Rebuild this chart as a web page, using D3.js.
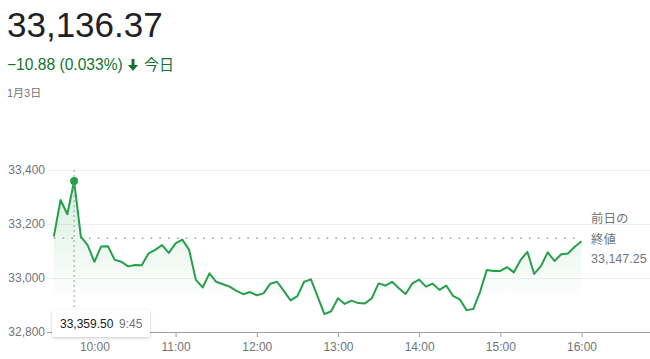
<!DOCTYPE html>
<html>
<head>
<meta charset="utf-8">
<script src="https://cdn.jsdelivr.net/npm/d3@7"></script>
<style>
  html, body { margin: 0; padding: 0; background: #fff; }
  svg { display: block; font-family: Arial, "Liberation Sans", sans-serif; }
  .jp { font-family: Arial, "Noto Sans CJK JP", sans-serif; }
</style>
</head>
<body>
<div id="chart"></div>
<script>
// ── Data (5-minute closes) ──────────────────────────────────────────────────
const times = [
  '9:30','9:35','9:40','9:45','9:50','9:55','10:00','10:05','10:10','10:15','10:20','10:25',
  '10:30','10:35','10:40','10:45','10:50','10:55','11:00','11:05','11:10','11:15','11:20','11:25',
  '11:30','11:35','11:40','11:45','11:50','11:55','12:00','12:05','12:10','12:15','12:20','12:25',
  '12:30','12:35','12:40','12:45','12:50','12:55','13:00','13:05','13:10','13:15','13:20','13:25',
  '13:30','13:35','13:40','13:45','13:50','13:55','14:00','14:05','14:10','14:15','14:20','14:25',
  '14:30','14:35','14:40','14:45','14:50','14:55','15:00','15:05','15:10','15:15','15:20','15:25',
  '15:30','15:35','15:40','15:45','15:50','15:55','16:00'
];
const values = [
  33153, 33289, 33236, 33359.5, 33153, 33122, 33060, 33117, 33118, 33067, 33060, 33043,
  33048, 33047, 33091, 33104, 33122, 33093, 33128, 33142, 33104, 32993, 32965, 33017,
  32986, 32977, 32968, 32952, 32940, 32948, 32936, 32943, 32979, 32986, 32952, 32917,
  32933, 32986, 32995, 32931, 32866, 32877, 32925, 32904, 32916, 32907, 32906, 32925,
  32980, 32972, 32986, 32962, 32941, 32980, 32994, 32968, 32979, 32956, 32972, 32934,
  32921, 32881, 32885, 32949, 33030, 33026, 33026, 33040, 33021, 33067, 33097, 33015,
  33044, 33095, 33063, 33088, 33091, 33116, 33136.37
];
const prevClose = 33147.25;
const yTicks = [32800, 33000, 33200, 33400];
const xTicks = ['10:00','11:00','12:00','13:00','14:00','15:00','16:00'];
const hoverIdx = 3;

const W = 650, H = 359;
const GREEN = '#25a04a', GRAY = '#70757a';
const toMin = s => { const [h, m] = s.split(':').map(Number); return h * 60 + m; };
const data = times.map((t, i) => ({ t: toMin(t), v: values[i] }));

const svg = d3.select('#chart').append('svg').attr('width', W).attr('height', H);

// ── Header ─────────────────────────────────────────────────────────────────
svg.append('text').attr('x', 7).attr('y', 37).attr('font-size', 35)
  .attr('fill', '#202124').text('33,136.37');
svg.append('text').attr('x', 7).attr('y', 70).attr('font-size', 15.6)
  .attr('fill', '#137333').text('\u221210.88 (0.033%)');
svg.append('path')
  .attr('d', 'M131.5,59 h3 v6 h3.5 l-5,6 l-5,-6 h3.5 Z')
  .attr('fill', '#137333');
svg.append('text').attr('class', 'jp').attr('x', 144).attr('y', 70).attr('font-size', 15)
  .attr('fill', '#137333').text('今日');
svg.append('text').attr('class', 'jp').attr('x', 7).attr('y', 97).attr('font-size', 11)
  .attr('fill', GRAY).text('1月3日');

// ── Scales ─────────────────────────────────────────────────────────────────
const x = d3.scaleLinear().domain([570, 1010.6]).range([53.8, 650]);
const y = d3.scaleLinear().domain([32800, 33400]).range([332, 170]);

// gradient for area
const defs = svg.append('defs');
const grad = defs.append('linearGradient').attr('id', 'fillGrad')
  .attr('gradientUnits', 'userSpaceOnUse').attr('x1', 0).attr('x2', 0)
  .attr('y1', y(33400)).attr('y2', 300);
grad.append('stop').attr('offset', 0).attr('stop-color', GREEN).attr('stop-opacity', 0.2);
grad.append('stop').attr('offset', 1).attr('stop-color', GREEN).attr('stop-opacity', 0);
const shadow = defs.append('filter').attr('id', 'shadow')
  .attr('x', -0.2).attr('y', -0.4).attr('width', 1.4).attr('height', 1.8);
shadow.append('feDropShadow').attr('dx', 0).attr('dy', 1).attr('stdDeviation', 1.5)
  .attr('flood-color', '#000').attr('flood-opacity', 0.22);

// ── Grid + y axis ──────────────────────────────────────────────────────────
svg.append('g').attr('transform', 'translate(47,0)')
  .call(d3.axisLeft(y).tickValues(yTicks).tickSize(-(W - 47)).tickPadding(2)
    .tickFormat(d3.format(',')))
  .call(ax => ax.select('.domain').remove())
  .call(ax => ax.selectAll('line').attr('stroke', '#eeeeee'))
  .call(ax => ax.selectAll('text').attr('fill', GRAY).attr('font-size', 12)
    .attr('font-family', 'Arial, "Liberation Sans", sans-serif'));

// ── Area + line ────────────────────────────────────────────────────────────
svg.append('path').datum(data)
  .attr('d', d3.area().x(d => x(d.t)).y0(y(32800)).y1(d => y(d.v)))
  .attr('fill', 'url(#fillGrad)');

// previous close dotted line
svg.append('line')
  .attr('x1', x(570)).attr('x2', x(960))
  .attr('y1', y(prevClose)).attr('y2', y(prevClose))
  .attr('stroke', '#9aa0a6').attr('stroke-width', 1.6)
  .attr('stroke-dasharray', '1.6,7.2');

svg.append('path').datum(data)
  .attr('d', d3.line().x(d => x(d.t)).y(d => y(d.v)))
  .attr('fill', 'none').attr('stroke', GREEN).attr('stroke-width', 2)
  .attr('stroke-linejoin', 'round');

// ── x axis ─────────────────────────────────────────────────────────────────
svg.append('g').attr('transform', `translate(0,${y(32800)})`)
  .call(d3.axisBottom(x).tickValues(xTicks.map(toMin)).tickSize(5).tickSizeOuter(0)
    .tickPadding(5).tickFormat(d => `${Math.floor(d / 60)}:00`))
  .call(ax => ax.select('.domain').attr('d', `M47,0.5H${W}`).attr('stroke', '#9aa0a6'))
  .call(ax => ax.selectAll('line').attr('stroke', '#9aa0a6'))
  .call(ax => ax.selectAll('text').attr('fill', GRAY).attr('font-size', 12)
    .attr('font-family', 'Arial, "Liberation Sans", sans-serif'));

// ── Hover marker + tooltip ────────────────────────────────────────────────
const hp = data[hoverIdx];
svg.append('line')
  .attr('x1', x(hp.t)).attr('x2', x(hp.t)).attr('y1', y(33400)).attr('y2', 312)
  .attr('stroke', '#9aa0a6').attr('stroke-width', 1).attr('stroke-dasharray', '2,3');
svg.append('circle').attr('cx', x(hp.t)).attr('cy', y(hp.v)).attr('r', 4)
  .attr('fill', GREEN);

const tip = svg.append('g').attr('transform', 'translate(52,310)');
tip.append('rect').attr('width', 98).attr('height', 27).attr('rx', 2)
  .attr('fill', '#fff').attr('filter', 'url(#shadow)');
tip.append('text').attr('x', 8).attr('y', 18).attr('font-size', 12)
  .attr('fill', '#202124').text(d3.format(',.2f')(hp.v));
tip.append('text').attr('x', 67).attr('y', 18).attr('font-size', 12)
  .attr('fill', GRAY).text(times[hoverIdx]);

// ── Previous close label ───────────────────────────────────────────────────
const lbl = svg.append('g').attr('class', 'jp').attr('fill', GRAY);
lbl.append('text').attr('x', 591).attr('y', 223).attr('font-size', 12.5).text('前日の');
lbl.append('text').attr('x', 591).attr('y', 244).attr('font-size', 12.5).text('終値');
lbl.append('text').attr('x', 591).attr('y', 263).attr('font-size', 12.5)
  .attr('font-family', 'Arial, "Liberation Sans", sans-serif')
  .text(d3.format(',.2f')(prevClose));
</script>
</body>
</html>
